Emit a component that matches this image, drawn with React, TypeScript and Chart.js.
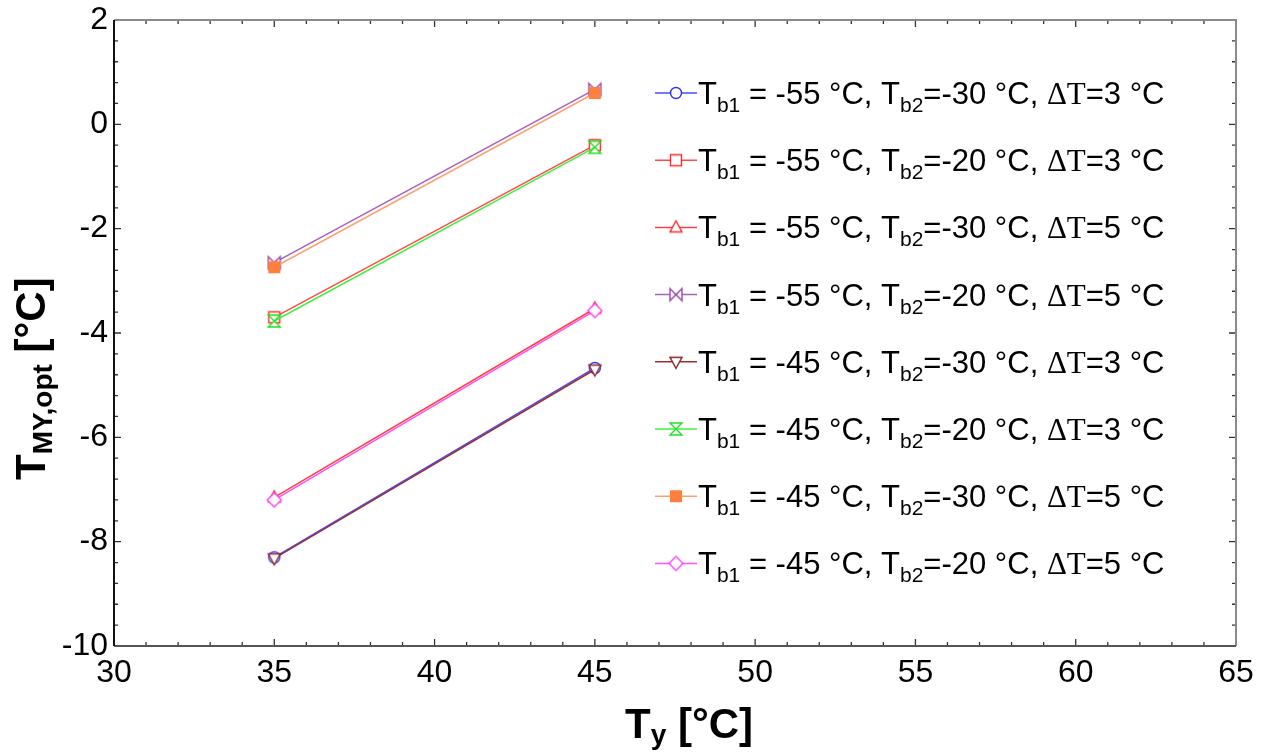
import React, { useEffect, useRef } from "react";
import { Chart, registerables } from "chart.js";

Chart.register(...registerables);

// ---------- data ----------
const xValues = [35, 45];
const s1 = [-8.3, -4.67]; // Tb1=-55, Tb2=-30, dT=3
const s2 = [-3.7, -0.4]; // Tb1=-55, Tb2=-20, dT=3
const s3 = [-7.15, -3.53]; // Tb1=-55, Tb2=-30, dT=5
const s4 = [-2.65, 0.67]; // Tb1=-55, Tb2=-20, dT=5
const s5 = [-8.32, -4.7]; // Tb1=-45, Tb2=-30, dT=3
const s6 = [-3.77, -0.44]; // Tb1=-45, Tb2=-20, dT=3
const s7 = [-2.74, 0.6]; // Tb1=-45, Tb2=-30, dT=5
const s8 = [-7.2, -3.57]; // Tb1=-45, Tb2=-20, dT=5
const seriesValues = [s1, s2, s3, s4, s5, s6, s7, s8];

const tb1 = [-55, -55, -55, -55, -45, -45, -45, -45];
const tb2 = [-30, -20, -30, -20, -30, -20, -30, -20];
const dT = [3, 3, 5, 5, 3, 3, 5, 5];

const xTicks = [30, 35, 40, 45, 50, 55, 60, 65];
const yTicks = [-10, -8, -6, -4, -2, 0, 2];

// ---------- styles ----------
const lineColors = ["#4a4aff", "#ff4a4a", "#ff4040", "#a860b8", "#9a3030", "#40f040", "#ffa070", "#ff50ff"];
const markerColors = ["#3030ff", "#ff2a2a", "#ff2a2a", "#9a4aaa", "#8a2020", "#20e020", "#ff7f3f", "#ff40ff"];
const markerKinds = ["circle", "square", "triUp", "bowtie", "triDown", "hourglass", "filledSquare", "diamond"];

const SANS = "Arial, 'Liberation Sans', sans-serif";
const SERIF = "'Times New Roman', 'Liberation Serif', serif";

function makeMarker(kind: string, color: string): HTMLCanvasElement {
  const S = 22;
  const c = document.createElement("canvas");
  c.width = S;
  c.height = S;
  const g = c.getContext("2d")!;
  const m = S / 2;
  g.strokeStyle = color;
  g.fillStyle = "#ffffff";
  g.lineWidth = 1.4;
  g.beginPath();
  switch (kind) {
    case "circle":
      g.arc(m, m, 5.5, 0, Math.PI * 2);
      g.fill();
      g.stroke();
      break;
    case "square":
      g.rect(m - 5.5, m - 5.5, 11, 11);
      g.fill();
      g.stroke();
      break;
    case "filledSquare":
      g.fillStyle = color;
      g.rect(m - 6, m - 6, 12, 12);
      g.fill();
      break;
    case "triUp":
      g.moveTo(m, m - 6.5);
      g.lineTo(m + 6, m + 4.5);
      g.lineTo(m - 6, m + 4.5);
      g.closePath();
      g.fill();
      g.stroke();
      break;
    case "triDown":
      g.moveTo(m, m + 6.5);
      g.lineTo(m + 6, m - 4.5);
      g.lineTo(m - 6, m - 4.5);
      g.closePath();
      g.fill();
      g.stroke();
      break;
    case "diamond":
      g.moveTo(m, m - 7);
      g.lineTo(m + 7, m);
      g.lineTo(m, m + 7);
      g.lineTo(m - 7, m);
      g.closePath();
      g.fill();
      g.stroke();
      break;
    case "bowtie":
      g.moveTo(m - 6, m - 6);
      g.lineTo(m + 6, m + 6);
      g.lineTo(m + 6, m - 6);
      g.lineTo(m - 6, m + 6);
      g.closePath();
      g.fill();
      g.stroke();
      break;
    case "hourglass":
      g.moveTo(m - 6, m - 6);
      g.lineTo(m + 6, m - 6);
      g.lineTo(m - 6, m + 6);
      g.lineTo(m + 6, m + 6);
      g.closePath();
      g.fill();
      g.stroke();
      break;
  }
  return c;
}

function drawPieces(ctx: CanvasRenderingContext2D, pieces: { t: string; font: string; dy: number }[], x: number, y: number) {
  let cx = x;
  for (const p of pieces) {
    ctx.font = p.font;
    ctx.fillText(p.t, cx, y + p.dy);
    cx += ctx.measureText(p.t).width;
  }
  return cx;
}

export default function App() {
  const ref = useRef<HTMLCanvasElement>(null);

  useEffect(() => {
    const canvas = ref.current!;
    const markers = markerKinds.map((k, i) => makeMarker(k, markerColors[i]));

    const datasets = seriesValues.map((vals, i) => ({
      label: `Tb1 = ${tb1[i]} °C, Tb2=${tb2[i]} °C, ΔT=${dT[i]} °C`,
      data: vals.map((v, j) => ({ x: xValues[j], y: v })),
      borderColor: lineColors[i],
      backgroundColor: markerColors[i],
      borderWidth: 1.5,
      pointStyle: markers[i] as any,
      pointRadius: 7,
      showLine: true,
      tension: 0,
      order: seriesValues.length - i,
    }));

    const framePlugin = {
      id: "frame",
      afterDatasetsDraw(chart: any) {
        const { ctx, chartArea: a, scales } = chart;
        const xs = scales.x;
        const ys = scales.y;
        ctx.save();
        ctx.strokeStyle = "#333";
        ctx.lineWidth = 1.3;
        for (let v = 30; v <= 65; v += 1) {
          const px = xs.getPixelForValue(v);
          const len = v % 5 === 0 ? 7 : 4;
          ctx.beginPath();
          ctx.moveTo(px, a.bottom);
          ctx.lineTo(px, a.bottom - len);
          ctx.moveTo(px, a.top);
          ctx.lineTo(px, a.top + len);
          ctx.stroke();
        }
        for (let k = 0; k <= 30; k++) {
          const v = -10 + k * 0.4;
          const py = ys.getPixelForValue(v);
          const len = k % 5 === 0 ? 7 : 4;
          ctx.beginPath();
          ctx.moveTo(a.left, py);
          ctx.lineTo(a.left + len, py);
          ctx.moveTo(a.right, py);
          ctx.lineTo(a.right - len, py);
          ctx.stroke();
        }
        ctx.lineWidth = 2;
        ctx.strokeStyle = "#8a8a8a";
        ctx.beginPath();
        ctx.moveTo(a.left, a.top);
        ctx.lineTo(a.right, a.top);
        ctx.lineTo(a.right, a.bottom);
        ctx.stroke();
        ctx.strokeStyle = "#555";
        ctx.beginPath();
        ctx.moveTo(a.right, a.bottom);
        ctx.lineTo(a.left, a.bottom);
        ctx.stroke();
        ctx.strokeStyle = "#111";
        ctx.beginPath();
        ctx.moveTo(a.left, a.bottom);
        ctx.lineTo(a.left, a.top);
        ctx.stroke();
        ctx.restore();
      },
      afterDraw(chart: any) {
        const { ctx } = chart;
        ctx.save();
        ctx.fillStyle = "#000";
        ctx.textBaseline = "alphabetic";
        const mainF = `31px ${SANS}`;
        const subF = `21px ${SANS}`;
        const serF = `31px ${SERIF}`;
        for (let i = 0; i < seriesValues.length; i++) {
          const ly = 93 + i * 67.2;
          const lx0 = 655;
          const lx1 = 697;
          ctx.strokeStyle = lineColors[i];
          ctx.lineWidth = 1.5;
          ctx.beginPath();
          ctx.moveTo(lx0, ly);
          ctx.lineTo(lx1, ly);
          ctx.stroke();
          const mk = markers[i];
          ctx.drawImage(mk, (lx0 + lx1) / 2 - mk.width / 2, ly - mk.height / 2);
          ctx.fillStyle = "#000";
          drawPieces(
            ctx,
            [
              { t: "T", font: mainF, dy: 0 },
              { t: "b1", font: subF, dy: 8 },
              { t: ` = ${tb1[i]} °C, T`, font: mainF, dy: 0 },
              { t: "b2", font: subF, dy: 8 },
              { t: `=${tb2[i]} °C, `, font: mainF, dy: 0 },
              { t: "ΔT", font: serF, dy: 0 },
              { t: `=${dT[i]} °C`, font: mainF, dy: 0 },
            ],
            lx1 + 1,
            ly + 11
          );
        }
        const tF = `bold 42px ${SANS}`;
        const tsF = `bold 28px ${SANS}`;
        drawPieces(
          ctx,
          [
            { t: "T", font: tF, dy: 0 },
            { t: "y", font: tsF, dy: 6 },
            { t: " [°C]", font: tF, dy: 0 },
          ],
          625,
          738
        );
        ctx.translate(45, 480);
        ctx.rotate(-Math.PI / 2);
        drawPieces(
          ctx,
          [
            { t: "T", font: tF, dy: 0 },
            { t: "MY,opt", font: tsF, dy: 7 },
            { t: " [°C]", font: tF, dy: 0 },
          ],
          0,
          0
        );
        ctx.restore();
      },
    };

    const chart = new Chart(canvas, {
      type: "scatter",
      data: { datasets: datasets as any },
      options: {
        animation: false,
        responsive: false,
        layout: { padding: { left: 0, top: 20, right: 26, bottom: 0 } },
        plugins: { legend: { display: false }, tooltip: { enabled: false } },
        scales: {
          x: {
            type: "linear",
            min: 30,
            max: 65,
            afterBuildTicks: (s: any) => {
              s.ticks = xTicks.map((v) => ({ value: v }));
            },
            afterFit: (s: any) => {
              s.height = 110;
              s.paddingLeft = 0;
              s.paddingRight = 0;
            },
            ticks: { font: { size: 32, family: SANS }, color: "#000", padding: 8, maxRotation: 0 },
            grid: { display: false, drawTicks: false },
            border: { display: false },
          },
          y: {
            type: "linear",
            min: -10,
            max: 2,
            afterBuildTicks: (s: any) => {
              s.ticks = yTicks.map((v) => ({ value: v }));
            },
            afterFit: (s: any) => {
              s.width = 114;
              s.paddingTop = 0;
              s.paddingBottom = 0;
            },
            ticks: { font: { size: 32, family: SANS }, color: "#000", padding: 6 },
            grid: { display: false, drawTicks: false },
            border: { display: false },
          },
        },
      },
      plugins: [framePlugin],
    });
    return () => chart.destroy();
  }, []);

  return (
    <div style={{ position: "absolute", left: 0, top: 0, width: 1262, height: 756, background: "#fff" }}>
      <canvas ref={ref} width={1262} height={756} style={{ width: 1262, height: 756, display: "block" }} />
    </div>
  );
}
